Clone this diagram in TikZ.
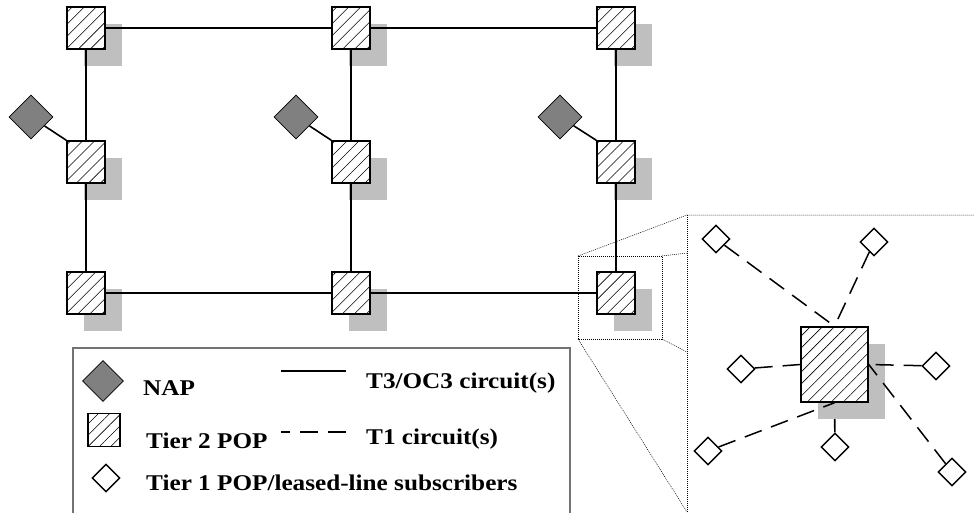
\documentclass[tikz,border=0pt]{standalone}
\usepackage{fontspec}
\setmainfont[FakeStretch=1.12]{Liberation Serif}
\usetikzlibrary{shapes.geometric,shadows,patterns.meta}
\pgfdeclarelayer{background}
\pgfsetlayers{background,main}

\begin{document}
\begin{tikzpicture}[x=1pt,y=-1pt,
  pop/.style={rectangle,draw,line width=1.5pt,inner sep=0pt,
    minimum width=38pt,minimum height=42pt,
    drop shadow={shadow xshift=17pt,shadow yshift=-17pt,fill=black!25,opacity=1},
    preaction={fill=white},
    pattern={Lines[angle=45,distance=8.5pt,line width=0.6pt]}},
  hubpop/.style={pop,minimum width=67pt,minimum height=75pt},
  keypop/.style={rectangle,draw,line width=1.2pt,inner sep=0pt,
    minimum width=32pt,minimum height=33pt,preaction={fill=white},
    pattern={Lines[angle=45,distance=8pt,line width=0.6pt]}},
  nap/.style={diamond,aspect=1,draw,line width=0.8pt,fill=black!50,
    inner sep=0pt,minimum size=44pt},
  sub/.style={diamond,aspect=1,draw,line width=1.4pt,fill=white,
    inner sep=0pt,minimum size=28pt},
  link/.style={line width=1.6pt},
  tline/.style={line width=1.5pt,dash pattern=on 18pt off 10pt},
  zoomline/.style={line width=0.5pt,dash pattern=on 1pt off 1pt},
  keytext/.style={inner sep=0pt,anchor=base west,
    font=\fontsize{22.5}{26}\selectfont\bfseries}]
\clip (0,0) rectangle (974,512);
\useasboundingbox (0,0) rectangle (974,512);

\node[pop] (t1) at (86,28) {};
\node[pop] (t2) at (351,28) {};
\node[pop] (t3) at (616,28) {};
\node[pop] (m1) at (86,162) {};
\node[pop] (m2) at (351,162) {};
\node[pop] (m3) at (616,162) {};
\node[pop] (b1) at (86,293) {};
\node[pop] (b2) at (351,293) {};
\node[pop] (b3) at (616,293) {};

\node[nap] (n1) at (31,117) {};
\node[nap] (n2) at (296,117) {};
\node[nap] (n3) at (560,117) {};

\draw[link] (t1) -- (t2) -- (t3);
\draw[link] (b1) -- (b2) -- (b3);
\draw[link] (t1) -- (m1) -- (b1);
\draw[link] (t2) -- (m2) -- (b2);
\draw[link] (t3) -- (m3) -- (b3);
\draw[link] (n1) -- (m1.north west);
\draw[link] (n2) -- (m2.north west);
\draw[link] (n3) -- (m3.north west);

\coordinate (z1) at (578,256);
\coordinate (z2) at (662,256);
\coordinate (z3) at (662,339);
\coordinate (z4) at (578,339);
\coordinate (p1) at (687,215);
\coordinate (p2) at (687,253);
\coordinate (p3) at (687,352);
\coordinate (p4) at (687,512);
\coordinate (p5) at (974,215);
\draw[zoomline] (z1) rectangle (z3);
\draw[zoomline] (z1) -- (p1) -- (p5);
\draw[zoomline] (p1) -- (p4);
\draw[zoomline] (z2) -- (p2);
\draw[zoomline] (z3) -- (p3);
\draw[zoomline] (z4) -- (p4);

\node[hubpop] (hub) at (834.5,364.5) {};
\node[sub] (s1) at (716,239) {};
\node[sub] (s2) at (874,242) {};
\node[sub] (s3) at (741,369) {};
\node[sub] (s4) at (936,366) {};
\node[sub] (s5) at (708,451) {};
\node[sub] (s6) at (835,447) {};
\node[sub] (s7) at (952,472) {};

\draw[tline] (s1) -- (hub.north);
\draw[tline] (s2) -- (hub.north);
\draw[tline] (s3) -- (hub.west);
\draw[tline] (s4) -- (hub.east);
\draw[tline] (s5) -- (hub.south);
\draw[tline] (s7) -- (hub.east);
\begin{pgfonlayer}{background}
\draw[link] (hub.south) -- (s6);
\end{pgfonlayer}

\draw[line width=1.1pt,black!55] (73,348) rectangle (570,530);
\node[nap,minimum size=41pt] (kn) at (103,381) {};
\node[keypop] (kp) at (104,430) {};
\node[sub] (ks) at (106,478) {};
\node[keytext] (knt) at (143,395) {NAP};
\node[keytext] (kpt) at (146,448) {Tier 2 POP};
\node[keytext] (kst) at (146,490) {Tier 1 POP/leased-line subscribers};
\coordinate (la) at (281,371);
\coordinate (lb) at (346,371);
\coordinate (lc) at (346,432);
\coordinate (ld) at (281,432);
\draw[link] (la) -- (lb);
\draw[tline] (lc) -- (ld);
\node[keytext] (klt) at (366,388) {T3/OC3 circuit(s)};
\node[keytext] (kdt) at (366,444) {T1 circuit(s)};
\end{tikzpicture}
\end{document}
